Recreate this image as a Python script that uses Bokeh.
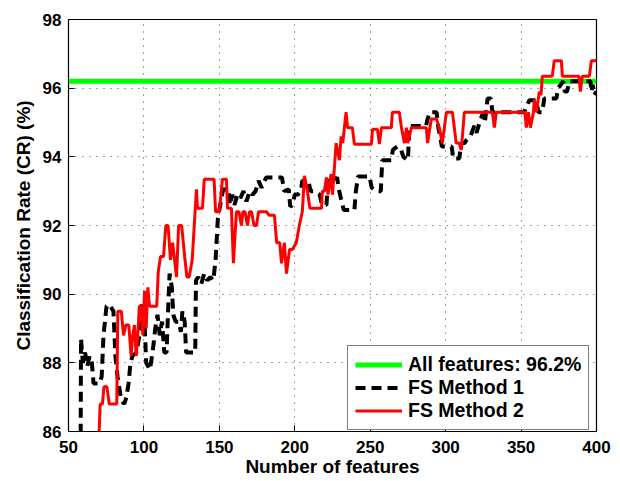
from bokeh.plotting import figure
from bokeh.models import Range1d, FixedTicker, Legend, LegendItem
from bokeh.embed import file_html
from bokeh.resources import INLINE

# ---------------- data ----------------
x_ticks = [50, 100, 150, 200, 250, 300, 350, 400]
y_ticks = [86, 88, 90, 92, 94, 96, 98]

all_features_cr = 96.2
all_features_x = [50, 400]

fs1_x = [58.0, 58.3, 59.5, 61, 62.5, 64, 65.5, 66.6, 70.5, 72, 73.2, 75.2, 77, 78.5, 79.8, 81.1, 82.5, 85, 87, 88.4,
         89.8, 91.1, 92.4, 95.1, 97, 98.5, 100.4, 101.5, 104, 106, 107.5, 109, 110.5, 112, 113.5, 115, 116, 117, 118.5,
         119.5, 121, 123, 124.5, 125.5, 127, 128, 134, 134.5, 136, 138, 140, 142, 144, 146, 147.5, 149, 151, 152.5,
         156, 157, 158.5, 160, 162, 164, 166, 168, 170, 172, 174, 176, 178, 181, 191.5, 193, 196, 197, 198.5, 200,
         202, 204, 205, 209, 210.5, 213, 216.5, 218, 221, 222, 226, 228, 229.5, 231, 232.5, 239.5, 240.5, 242, 249.5,
         251, 254, 257, 258, 264, 265, 268, 270.5, 272, 275, 276, 287, 288, 289.5, 294, 295, 297.5, 304, 305, 309,
         310.5, 312.5, 314, 316.5, 319, 320.5, 322.5, 324.5, 326, 327.8, 330, 331, 352, 354, 355.5, 360, 361.5, 364,
         365.4, 373.4, 374.5, 378, 379, 380.5, 382, 396, 396.6, 397.5, 398.5, 400]
fs1_y = [85.0, 88.7, 88.0, 88.3, 87.9, 88.2, 88.0, 87.4, 87.4, 87.6, 88.8, 89.65, 89.7, 89.6, 89.5, 88.2, 87.6, 86.9,
         86.8, 87.0, 87.4, 88.0, 88.2, 88.3, 88.8, 89.7, 89.2, 88.0, 87.8, 88.4, 89.0, 89.4, 88.8, 89.2, 88.3, 88.3,
         89.5, 90.6, 90.2, 89.4, 89.2, 89.2, 88.9, 89.5, 89.2, 88.3, 88.3, 90.4, 90.5, 90.3, 90.6, 90.4, 90.5, 90.4,
         91.0, 92.2, 92.7, 93.05, 93.05, 92.6, 92.9, 92.6, 92.9, 92.8, 93.0, 92.7, 93.0, 92.9, 93.0, 93.3, 93.1, 93.4,
         93.4, 93.0, 93.05, 92.55, 92.6, 92.9, 92.9, 93.0, 93.3, 93.3, 93.0, 93.0, 92.9, 92.6, 92.6, 93.3, 93.3, 93.4,
         93.0, 92.7, 92.45, 92.45, 93.0, 93.43, 93.43, 93.1, 93.0, 93.0, 93.9, 93.9, 94.2, 94.3, 94.2, 94.0, 93.9,
         94.9, 94.9, 95.1, 95.3, 95.3, 94.9, 94.3, 94.3, 93.95, 93.95, 94.4, 94.4, 94.5, 94.6, 94.9, 94.7, 95.0, 95.25,
         95.0, 95.7, 95.7, 95.3, 95.3, 95.5, 95.65, 95.65, 95.3, 95.3, 95.7, 95.7, 96.0, 96.2, 95.9, 95.9, 96.2, 96.2,
         95.9, 96.1, 95.8, 95.9]

fs2_x = [69.5, 71, 72.5, 73.5, 75.5, 77, 82, 82.7, 85, 86.5, 88, 90, 91.5, 92.6, 93.7, 94.9, 95.9, 97, 98, 99.3,
         100.4, 101.5, 102.6, 103.7, 108.5, 109.5, 111, 113, 114.5, 116, 117.6, 119, 121.6, 123, 125, 127, 128.5,
         130, 132, 134.8, 135.5, 138.8, 140, 146.5, 147.5, 150, 152, 154.7, 155.4, 158, 159.3, 161.3, 163, 164.6,
         165.6, 167, 168.6, 170, 171.3, 173, 174.6, 176, 181.2, 183, 186.5, 188, 190, 191.2, 193.1, 194.5, 196.5,
         198.4, 201, 203, 205, 206.4, 208.4, 210, 217.7, 218.3, 219.6, 221, 222, 224.1, 225, 227.4, 229.6, 230.7,
         231.8, 234, 235, 238.2, 239.5, 250.8, 251.5, 254.8, 256.1, 257.4, 264, 264.7, 269.3, 270.7, 272.7, 274,
         274.9, 277.3, 287.2, 288, 290.5, 294, 296, 297.8, 300.5, 304.5, 307, 309, 310.4, 312.4, 331, 332.3, 333.6,
         352.5, 353.5, 354.8, 356.2, 358.2, 358.8, 360.1, 362.1, 363.2, 364.1, 370.7, 372, 376.7, 377.4, 388.3,
         389.3, 390.6, 395.3, 396.6, 400]
fs2_y = [85.0, 86.8, 86.8, 87.3, 87.3, 86.8, 86.8, 89.5, 89.5, 88.8, 89.1, 89.1, 88.2, 88.8, 89.1, 88.2, 88.8, 89.65,
         89.65, 88.8, 90.1, 89.0, 90.2, 89.65, 89.65, 90.65, 91.1, 91.1, 92.0, 92.0, 91.0, 91.5, 90.5, 92.0, 92.0,
         91.1, 90.5, 90.5, 91.0, 93.05, 92.5, 92.5, 93.35, 93.35, 92.4, 92.4, 93.35, 93.35, 92.5, 92.5, 90.9, 92.4,
         92.4, 92.0, 92.4, 92.4, 92.0, 92.4, 92.4, 92.0, 92.0, 92.4, 92.4, 92.3, 92.3, 91.5, 91.5, 90.9, 91.5, 90.6,
         91.3, 91.3, 91.5, 92.0, 92.4, 93.45, 93.0, 92.5, 92.5, 93.0, 93.0, 93.4, 92.9, 93.5, 92.9, 94.4, 93.9, 94.6,
         94.4, 95.3, 94.85, 94.85, 94.37, 94.37, 94.8, 94.8, 94.37, 94.85, 94.85, 95.3, 95.3, 94.85, 94.4, 94.85,
         94.4, 94.85, 94.85, 94.4, 95.1, 95.1, 94.8, 94.4, 95.3, 95.3, 94.4, 94.4, 94.2, 95.3, 95.3, 94.85, 95.3,
         95.3, 94.85, 95.3, 94.85, 95.3, 95.67, 95.3, 95.9, 95.8, 96.35, 96.35, 96.8, 96.8, 96.35, 96.35, 95.9,
         96.35, 96.35, 96.8, 96.8]

legend_labels = ["All features: 96.2%", "FS Method 1", "FS Method 2"]

# ---------------- figure ----------------
FONT = "Liberation Sans"

p = figure(width=611, height=479, output_backend="svg", toolbar_location=None,
           x_range=Range1d(50, 400), y_range=Range1d(86, 98),
           min_border_left=68, min_border_right=15, min_border_top=19, min_border_bottom=46)
p.background_fill_color = "white"
p.border_fill_color = "white"
p.outline_line_color = "black"
p.outline_line_width = 1.2

for ax in (p.xaxis[0], p.yaxis[0]):
    ax.major_label_text_font = FONT
    ax.major_label_text_font_style = "bold"
    ax.major_label_text_font_size = "17px"
    ax.major_label_text_color = "black"
    ax.axis_label_text_font = FONT
    ax.axis_label_text_font_style = "bold"
    ax.axis_label_text_font_size = "19px"
    ax.axis_label_text_color = "black"
    ax.major_tick_in = 6
    ax.major_tick_out = 0
    ax.minor_tick_line_color = None
    ax.axis_line_color = "black"
    ax.major_tick_line_color = "black"

p.xaxis[0].ticker = FixedTicker(ticks=x_ticks)
p.yaxis[0].ticker = FixedTicker(ticks=y_ticks)
p.xaxis[0].axis_label = "Number of features"
p.yaxis[0].axis_label = "Classification Rate (CR) (%)"
p.xaxis[0].axis_label_standoff = 0
p.yaxis[0].axis_label_standoff = 6
p.xaxis[0].major_label_standoff = 9
p.yaxis[0].major_label_standoff = 7

p.xgrid.ticker = FixedTicker(ticks=x_ticks)
p.ygrid.ticker = FixedTicker(ticks=y_ticks)
for g in (p.xgrid[0], p.ygrid[0]):
    g.grid_line_color = "#444444"
    g.grid_line_dash = "1 6"
    g.grid_line_width = 1

r_all = p.line(all_features_x, [all_features_cr, all_features_cr], line_color="#00ff00", line_width=5)
r_fs1 = p.line(fs1_x, fs1_y, line_color="black", line_width=4, line_dash="10 6")
r_fs2 = p.line(fs2_x, fs2_y, line_color="#ff0000", line_width=3)

legend = Legend(items=[LegendItem(label=legend_labels[0], renderers=[r_all]),
                       LegendItem(label=legend_labels[1], renderers=[r_fs1]),
                       LegendItem(label=legend_labels[2], renderers=[r_fs2])],
                location=(279, 1))
legend.label_text_font = FONT
legend.label_text_font_style = "bold"
legend.label_text_font_size = "19.5px"
legend.label_text_color = "black"
legend.glyph_width = 47
legend.glyph_height = 21
legend.label_standoff = 6
legend.spacing = 0
legend.padding = 7
legend.margin = 0
legend.border_line_color = "black"
legend.border_line_width = 1
legend.background_fill_alpha = 1
p.add_layout(legend, "center")

open("out.html", "w").write(file_html(p, INLINE))
